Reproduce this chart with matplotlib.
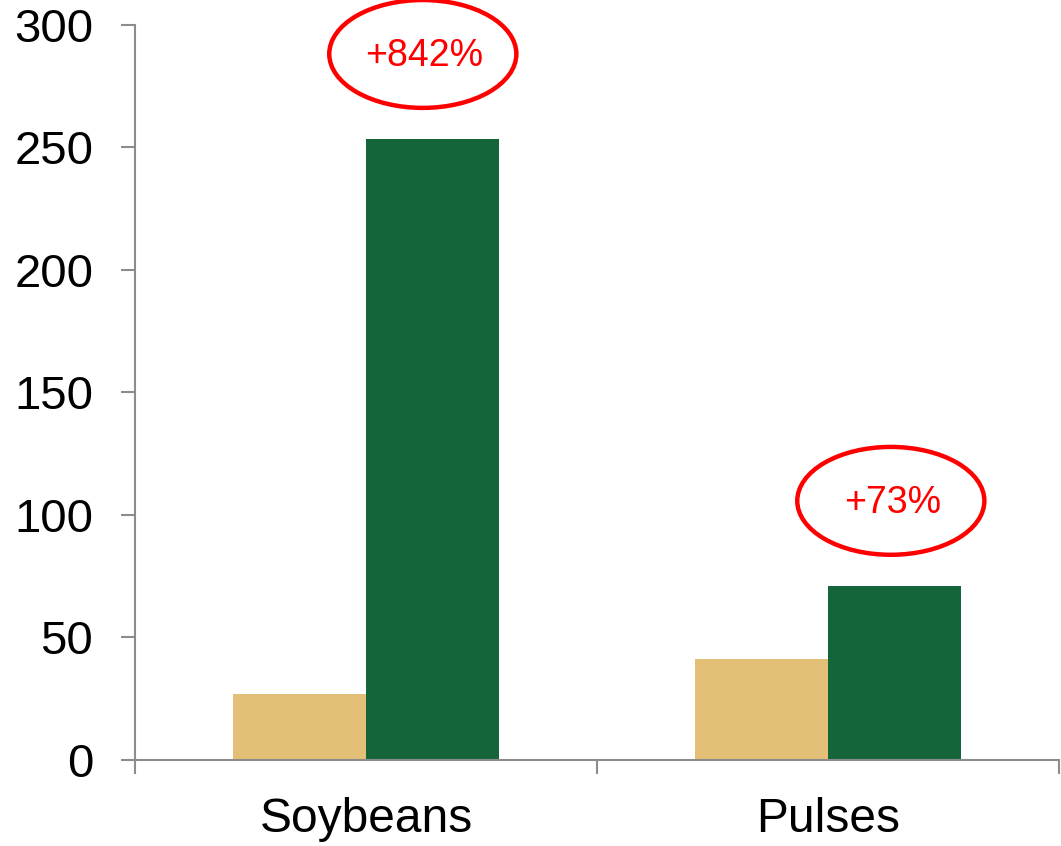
import numpy as np
import matplotlib.pyplot as plt
from matplotlib.patches import Ellipse

# Data
categories = ["Soybeans", "Pulses"]
before = [26.9, 41.0]
after = [253.3, 70.9]
changes = ["+842%", "+73%"]

TAN = "#E3BF78"
GREEN = "#15653B"
GREY = "#8C8C8C"
RED = "#FF0000"

plt.rcParams['font.family'] = ['Liberation Sans', 'DejaVu Sans']

fig = plt.figure(figsize=(10.61, 8.46), dpi=100)
ax = fig.add_axes([0.1272, 0.1017, 0.8709, 0.8693])

x = np.arange(len(categories))
w = 0.288
ax.bar(x - w / 2, before, width=w, color=TAN, zorder=2)
ax.bar(x + w / 2, after, width=w, color=GREEN, zorder=2)

ax.set_xlim(-0.5, 1.5)
ax.set_ylim(0, 300)
ax.set_yticks(np.arange(0, 301, 50))

# category labels on major ticks, boundary tick marks on minor ticks
ax.set_xticks(x)
ax.set_xticklabels(categories)
ax.set_xticks([-0.5, 0.5, 1.5], minor=True)
ax.tick_params(axis='x', which='major', length=0, pad=27, labelsize=34.5)
ax.tick_params(axis='x', which='minor', length=10, width=1.5, color=GREY)
ax.tick_params(axis='y', length=10, width=1.5, color=GREY, pad=20, labelsize=34)

for side in ('top', 'right'):
    ax.spines[side].set_visible(False)
for side in ('left', 'bottom'):
    ax.spines[side].set_color(GREY)
    ax.spines[side].set_linewidth(1.5)

# change callouts circled above the bars
ell_x = [0.123, 1.136]
ell_y = [288, 105.7]
for xi, yi, txt in zip(ell_x, ell_y, changes):
    ax.add_patch(Ellipse((xi, yi), 0.405, 44, fill=False, edgecolor=RED,
                         linewidth=3.2, clip_on=False, zorder=3))
    ax.text(xi + 0.004, yi - 1, txt, color=RED, fontsize=27,
            ha='center', va='center', zorder=4)

fig.savefig("out.png", dpi=100)
